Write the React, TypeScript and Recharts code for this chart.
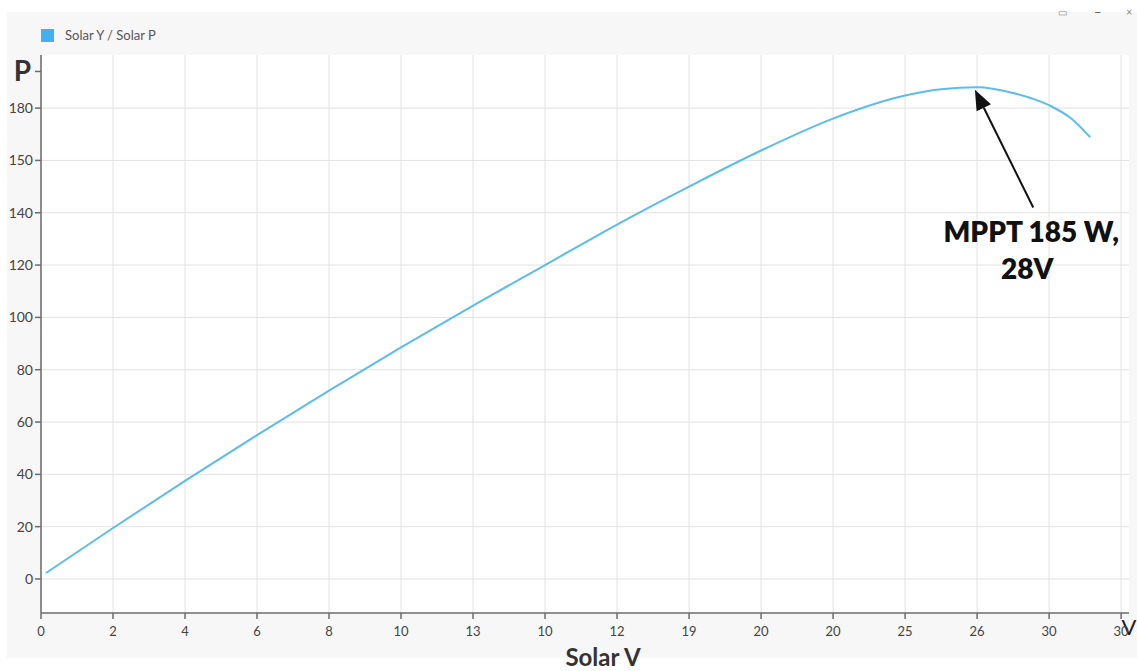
import React from 'react';
import {
  LineChart,
  Line,
  XAxis,
  YAxis,
  CartesianGrid,
  ReferenceLine,
} from 'recharts';

// x positions are tick slots on the voltage axis (labels are not monotonic)
const voltSlots = [0.07, 1, 2, 3, 4, 5, 6, 7, 8, 9, 10, 11, 12, 12.5, 13, 13.5, 14, 14.3, 14.57];
const solarPower = [2.3, 19.5, 37.5, 55, 72, 88.5, 104.5, 120, 135.5, 150, 163.8, 176, 184.8, 187.2, 188, 185.8, 181.1, 176.2, 168.9];

const xTickSlots = [0, 1, 2, 3, 4, 5, 6, 7, 8, 9, 10, 11, 12, 13, 14, 15];
const xTickLabels = ['0', '2', '4', '6', '8', '10', '13', '10', '12', '19', '20', '20', '25', '26', '30', '30'];

const yTickSlots = [0, 20, 40, 60, 80, 100, 120, 140, 160, 180];
const yTickLabels = ['0', '20', '40', '60', '80', '100', '120', '140', '150', '180'];
const yAxisTitleSlot = 194;

const mpptTail = { x: 13.78, y: 142 };
const mpptPeak = { x: 12.97, y: 187 };

const data = voltSlots.map((v, i) => ({ v, p: solarPower[i] }));

const FONT = 'Lato, "Open Sans", sans-serif';
const LINE_COLOR = '#5cbcec';
const AXIS_COLOR = '#6b6b6b';

function YTick({ x, y, payload }: any) {
  if (payload.value === yAxisTitleSlot) {
    return (
      <text x={x - 2} y={y + 10} textAnchor="end" fontFamily={FONT} fontWeight={700} fontSize={28} fill="#333">
        P
      </text>
    );
  }
  const idx = yTickSlots.indexOf(payload.value);
  return (
    <text x={x} y={y + 5} textAnchor="end" fontFamily={FONT} fontSize={14} fill="#444">
      {yTickLabels[idx]}
    </text>
  );
}

function XTick({ x, y, payload }: any) {
  return (
    <text x={x} y={y + 15} textAnchor="middle" fontFamily={FONT} fontSize={13} fill="#444">
      {xTickLabels[payload.value]}
    </text>
  );
}

function XTitle({ viewBox }: any) {
  const { x, y, width } = viewBox;
  return (
    <g>
      <text x={x + width / 2 + 18} y={y + 53} textAnchor="middle" fontFamily={FONT} fontWeight={700} fontSize={24} fill="#333">
        Solar V
      </text>
      <text x={x + width} y={y + 22} textAnchor="middle" fontFamily={FONT} fontSize={22} fill="#222">
        V
      </text>
    </g>
  );
}

function MpptArrow(props: any) {
  const { x1, y1, x2, y2 } = props;
  const dx = x2 - x1;
  const dy = y2 - y1;
  const len = Math.sqrt(dx * dx + dy * dy);
  const ux = dx / len;
  const uy = dy / len;
  const headLen = 20;
  const headW = 8;
  const bx = x2 - ux * headLen;
  const by = y2 - uy * headLen;
  const pts = `${x2},${y2} ${bx - uy * headW},${by + ux * headW} ${bx + uy * headW},${by - ux * headW}`;
  return (
    <g>
      <line x1={x1} y1={y1} x2={bx} y2={by} stroke="#111" strokeWidth={2} />
      <polygon points={pts} fill="#111" />
      <text x={x1 - 2} y={y1 + 34} textAnchor="middle" fontFamily={FONT} fontWeight={800} fontSize={28} fill="#111">
        MPPT 185 W,
      </text>
      <text x={x1 - 6} y={y1 + 71} textAnchor="middle" fontFamily={FONT} fontWeight={800} fontSize={28} fill="#111">
        28V
      </text>
    </g>
  );
}

export default function App() {
  return (
    <div style={{ position: 'relative', width: 1137, height: 671, background: '#fff', overflow: 'hidden' }}>
      <style>{'body{margin:0}'}</style>
      <div style={{ position: 'absolute', left: 7, top: 12, width: 1130, height: 646, background: '#f7f7f7' }} />
      <div style={{ position: 'absolute', left: 41, top: 27, display: 'flex', alignItems: 'center', fontFamily: FONT, fontSize: 13, color: '#555' }}>
        <span style={{ width: 13, height: 13, background: '#45b0ef', display: 'inline-block', marginRight: 11 }} />
        Solar Y / Solar P
      </div>
      <div style={{ position: 'absolute', top: 6, left: 1058, fontFamily: FONT, fontSize: 10, color: '#888' }}>▭</div>
      <div style={{ position: 'absolute', top: 4, left: 1094, fontFamily: FONT, fontSize: 13, color: '#555' }}>–</div>
      <div style={{ position: 'absolute', top: 5, left: 1126, fontFamily: FONT, fontSize: 11, color: '#888' }}>×</div>
      <div style={{ position: 'absolute', left: 0, top: 0 }}>
        <LineChart width={1137} height={671} data={data} margin={{ top: 55, right: 8, bottom: 0, left: 0 }}>
          <CartesianGrid
            stroke="#e2e2e2"
            fill="#ffffff"
            horizontalValues={yTickSlots}
            verticalValues={xTickSlots}
          />
          <XAxis
            dataKey="v"
            type="number"
            domain={[0, 15.11]}
            ticks={xTickSlots}
            interval={0}
            height={58}
            stroke={AXIS_COLOR}
            strokeWidth={1.5}
            tickSize={6}
            tickLine={{ stroke: AXIS_COLOR }}
            tick={<XTick />}
            label={<XTitle />}
          />
          <XAxis xAxisId="top" orientation="top" type="number" domain={[0, 15.11]} height={0} tick={false} tickLine={false} stroke={AXIS_COLOR} strokeWidth={1.5} />
          <YAxis
            type="number"
            domain={[-13, 200.3]}
            ticks={[...yTickSlots, yAxisTitleSlot]}
            interval={0}
            width={41}
            stroke={AXIS_COLOR}
            strokeWidth={1.5}
            tickSize={6}
            tickLine={{ stroke: AXIS_COLOR }}
            tick={<YTick />}
          />
          <YAxis yAxisId="right" orientation="right" type="number" domain={[-13, 200.3]} width={0} tick={false} tickLine={false} stroke={AXIS_COLOR} strokeWidth={1.5} />
          <Line
            type="monotone"
            dataKey="p"
            stroke={LINE_COLOR}
            strokeWidth={2}
            dot={false}
            isAnimationActive={false}
          />
          <ReferenceLine segment={[mpptTail, mpptPeak]} shape={MpptArrow} ifOverflow="visible" />
        </LineChart>
      </div>
    </div>
  );
}
